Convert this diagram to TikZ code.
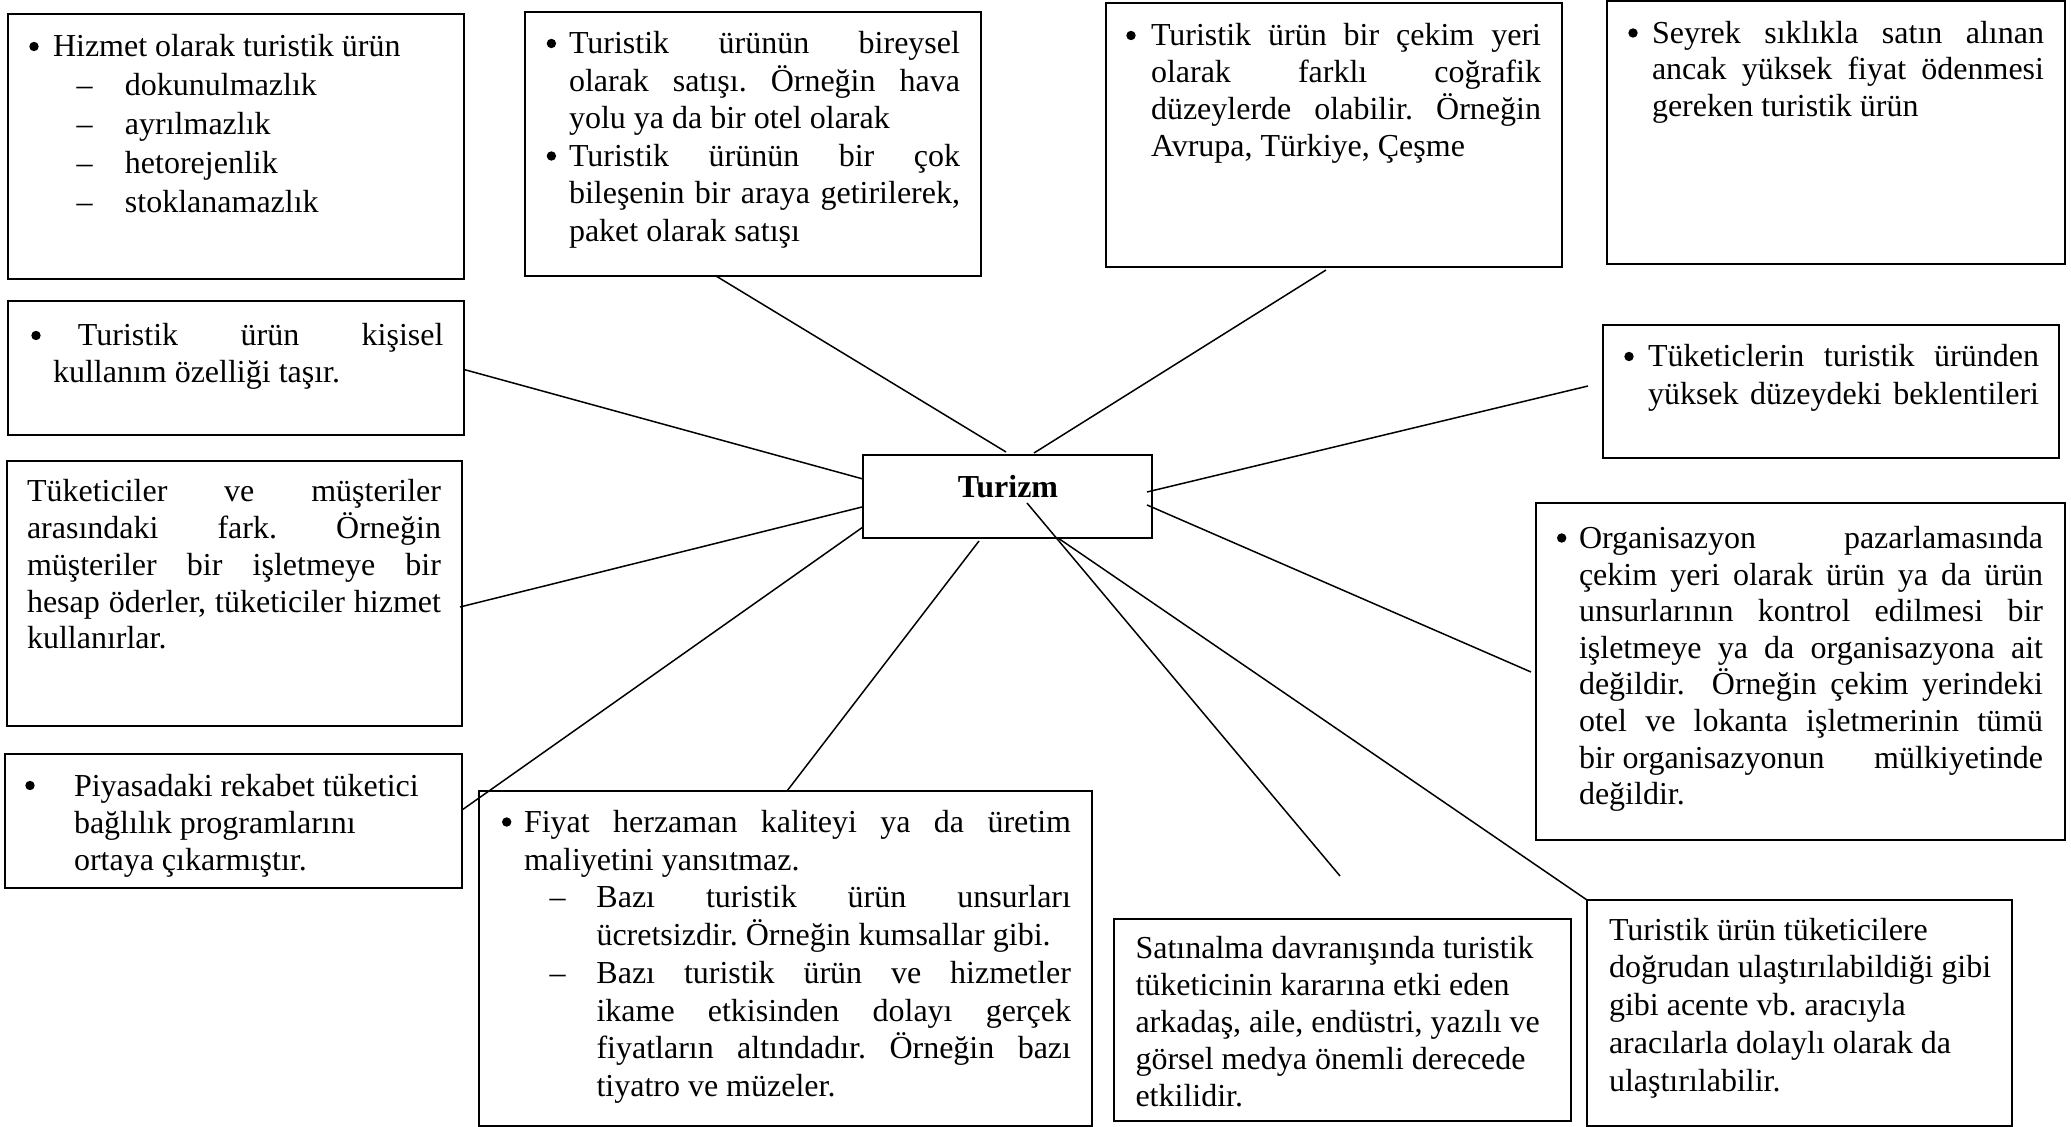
\documentclass[tikz,border=0pt]{standalone}
\usepackage{fontspec}
\setmainfont{Liberation Serif}
\usetikzlibrary{calc,fit}
% round bullet and dash hung to the left of the text start
\newcommand\blt[1]{\leavevmode\llap{\tikz[baseline=0pt]\fill (0pt,5.25pt) circle (2.35pt);\hspace{#1}}}
\newcommand\dsh[1]{\leavevmode\llap{\textendash\hspace{#1}}}
\frenchspacing
\begin{document}
\begin{tikzpicture}[x=0.5pt,y=-0.5pt,
  box/.style={draw, line width=1pt, inner sep=0pt, outer sep=0pt},
  link/.style={line width=0.75pt},
  txt/.style={anchor=base west, inner sep=0pt, outer sep=0pt,
    font=\fontsize{16pt}{#1}\selectfont\frenchspacing, align=justify},
  ltxt/.style={txt=#1, align=flush left}]
\fill[white] (0,0) rectangle (2071,1127);
\useasboundingbox (0,0) rectangle (2071,1127);

% ---- boxes ----
\node[box, fit={(863,455) (1152,538)}] (tz) {};
\node[box, fit={(8,14) (464,279)}] (b1) {};
\node[box, fit={(525,12) (981,276)}] (b2) {};
\node[box, fit={(8,301) (464,435)}] (b3) {};
\node[box, fit={(7,461) (462,726)}] (b4) {};
\node[box, fit={(5,754) (462,888)}] (b5) {};
\node[box, fit={(479,791) (1092,1126)}] (b6) {};
\node[box, fit={(1114,919) (1571,1121)}] (b7) {};
\node[box, fit={(1587,900) (2012,1126)}] (b8) {};
\node[box, fit={(1536,503) (2065,840)}] (b9) {};
\node[box, fit={(1603,325) (2059,458)}] (b10) {};
\node[box, fit={(1607,1.5) (2065,264)}] (b11) {};
\node[box, fit={(1106,3) (1562,267)}] (b12) {};

% ---- texts ----
\node[anchor=base, inner sep=0pt, font=\fontsize{16pt}{18pt}\selectfont\bfseries] (tzt) at (1008,498) {Turizm};

\node[ltxt=19.5pt, text width=200pt] (t1) at (53,57) {%
\blt{7.15pt}Hizmet olarak turistik ürün\par
{\leftskip=36pt
\dsh{16.15pt}dokunulmazlık\par
\dsh{16.15pt}ayrılmazlık\par
\dsh{16.15pt}hetorejenlik\par
\dsh{16.15pt}stoklanamazlık\par}};

\node[txt=18.75pt, text width=195.5pt] (t2) at (569,54) {%
\blt{6.45pt}Turistik ürünün bireysel\linebreak
olarak satışı. Örneğin hava\linebreak
yolu ya da bir otel olarak\par
\blt{6.45pt}Turistik ürünün bir çok\linebreak
bileşenin bir araya getirilerek,\linebreak
paket olarak satışı};

\node[txt=18.5pt, text width=195.25pt] (t3) at (53,346) {%
\blt{6.15pt}\hspace*{12.5pt}Turistik ürün kişisel\linebreak
kullanım özelliği taşır.};

\node[txt=18.35pt, text width=207pt] (t4) at (27,502) {%
Tüketiciler ve müşteriler\linebreak
arasındaki fark. Örneğin\linebreak
müşteriler bir işletmeye bir\linebreak
hesap öderler, tüketiciler hizmet\linebreak
kullanırlar.};

\node[ltxt=18.5pt, text width=190pt] (t5) at (74,796) {%
\blt{19.65pt}Piyasadaki rekabet tüketici\\
bağlılık programlarını\\
ortaya çıkarmıştır.};

\node[txt=18.85pt, text width=273.5pt] (t6) at (524,832.5) {%
\blt{6.3pt}Fiyat herzaman kaliteyi ya da üretim\linebreak
maliyetini yansıtmaz.\par
{\leftskip=36.25pt
\dsh{15.5pt}Bazı turistik ürün unsurları\linebreak
ücretsizdir. Örneğin kumsallar gibi.\par
\dsh{15.5pt}Bazı turistik ürün ve hizmetler\linebreak
ikame etkisinden dolayı gerçek\linebreak
fiyatların altındadır. Örneğin bazı\linebreak
tiyatro ve müzeler.\par}};

\node[ltxt=18.5pt, text width=215pt] (t7) at (1135.5,958) {%
Satınalma davranışında turistik\\
tüketicinin kararına etki eden\\
arkadaş, aile, endüstri, yazılı ve\\
görsel medya önemli derecede\\
etkilidir.};

\node[ltxt=18.95pt, text width=200pt] (t8) at (1609,940) {%
Turistik ürün tüketicilere\\
doğrudan ulaştırılabildiği gibi\\
gibi acente vb. aracıyla\\
aracılarla dolaylı olarak da\\
ulaştırılabilir.};

\node[txt=18.3pt, text width=232pt] (t9) at (1579,548.5) {%
\blt{6.3pt}Organisazyon pazarlamasında\linebreak
çekim yeri olarak ürün ya da ürün\linebreak
unsurlarının kontrol edilmesi bir\linebreak
işletmeye ya da organisazyona ait\linebreak
değildir.\ \ Örneğin çekim yerindeki\linebreak
otel ve lokanta işletmerinin tümü\linebreak
bir organisazyonun\hfill mülkiyetinde\linebreak
değildir.};

\node[txt=18.75pt, text width=195.5pt] (t10) at (1648,367) {%
{\parfillskip=0pt
\blt{7.15pt}Tüketiclerin turistik üründen\linebreak
yüksek düzeydeki beklentileri\par}};

\node[txt=18.25pt, text width=196pt] (t11) at (1652,43.5) {%
\blt{7.15pt}Seyrek sıklıkla satın alınan\linebreak
ancak yüksek fiyat ödenmesi\linebreak
gereken turistik ürün};

\node[txt=18.5pt, text width=195pt] (t12) at (1151,46) {%
\blt{7.65pt}Turistik ürün bir çekim yeri\linebreak
olarak farklı coğrafik\linebreak
düzeylerde olabilir. Örneğin\linebreak
Avrupa, Türkiye, Çeşme};

% ---- connector end points ----
\coordinate (tzA) at ($(tz.north west)+(143,-3)$);
\coordinate (tzB) at ($(tz.north west)+(171,-2)$);
\coordinate (tzL1) at ($(tz.north west)+(0,24)$);
\coordinate (tzL2) at ($(tz.north west)+(-1,52)$);
\coordinate (tzL3) at ($(tz.north west)+(0,72)$);
\coordinate (tzD1) at ($(tz.south west)+(116,3)$);
\coordinate (tzC) at ($(tz.north west)+(164,48)$);
\coordinate (tzD2) at ($(tz.south west)+(195,0)$);
\coordinate (tzR1) at ($(tz.north east)+(-5,37)$);
\coordinate (tzR2) at ($(tz.north east)+(-5,50)$);
\coordinate (p2) at ($(b2.south west)+(191,0)$);
\coordinate (p12) at ($(b12.south west)+(220,3)$);
\coordinate (p3) at ($(b3.north east)+(0,68.5)$);
\coordinate (p4) at ($(b4.north east)+(-2,146)$);
\coordinate (p5) at ($(b5.north east)+(0,56)$);
\coordinate (p6) at ($(b6.north west)+(308,0)$);
\coordinate (p10) at ($(b10.north west)+(-15,61)$);
\coordinate (p9) at ($(b9.north west)+(-5,169)$);
\coordinate (fe) at (1340,876);

% ---- connectors ----
\draw[link] (p2) -- (tzA);
\draw[link] (p12) -- (tzB);
\draw[link] (p3) -- (tzL1);
\draw[link] (p4) -- (tzL2);
\draw[link] (p5) -- (tzL3);
\draw[link] (p6) -- (tzD1);
\draw[link] (tzC) -- (fe);
\draw[link] (tzD2) -- (b8.north west);
\draw[link] (tzR1) -- (p10);
\draw[link] (tzR2) -- (p9);
\end{tikzpicture}
\end{document}
